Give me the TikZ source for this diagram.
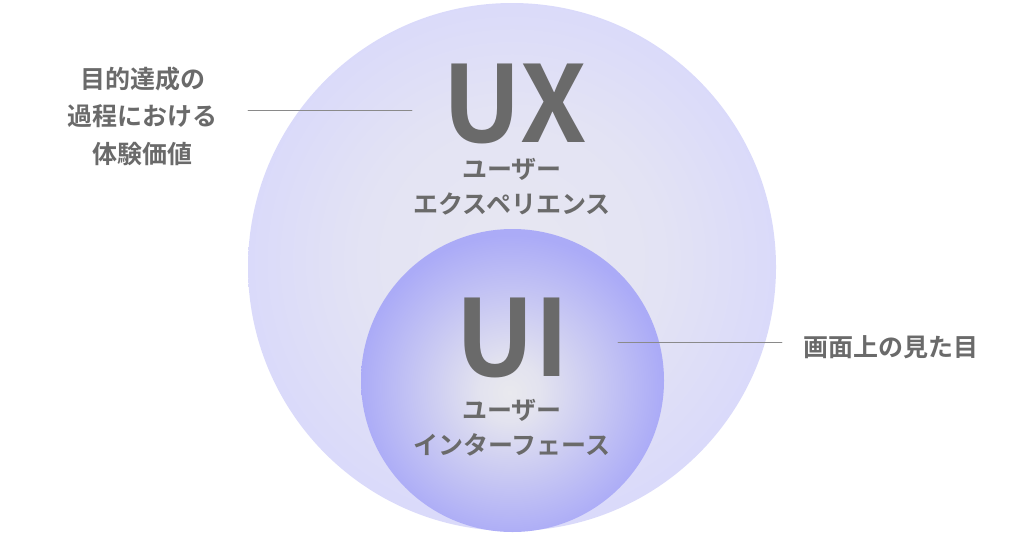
\documentclass[tikz,border=0pt]{standalone}
\usepackage{fontspec}
\usepackage{xcolor}
\usepackage{tikz}
\newfontfamily\jpbold{Noto Sans CJK JP Bold}
\definecolor{textgray}{HTML}{6A6A6A}
\definecolor{linegray}{HTML}{8A8A8A}
\definecolor{uxin}{HTML}{E7E7F1}
\definecolor{uxout}{HTML}{DADAFA}
\definecolor{uiin}{HTML}{E9E9EE}
\definecolor{uiout}{HTML}{ABABF7}
\pgfdeclareradialshading{uxshade}{\pgfpoint{0bp}{1bp}}{color(0bp)=(uxin); color(14bp)=(uxin!70!uxout); color(25bp)=(uxout); color(50bp)=(uxout)}
\pgfdeclareradialshading{uishade}{\pgfpoint{-0.5bp}{-2bp}}{color(0bp)=(uiin); color(5bp)=(uiin!90!uiout); color(25bp)=(uiout); color(50bp)=(uiout)}

\begin{document}
\begin{tikzpicture}[line cap=round,line join=round,x=1pt,y=-1pt]
		\useasboundingbox (0,0) rectangle (1024,536);
		\tikzset{
			bigword/.style={text=textgray,font=\jpbold\fontsize{106}{106}\selectfont,anchor=base,inner sep=0},
			jplabel/.style={text=textgray,font=\jpbold\fontsize{25}{35}\selectfont,align=center,inner sep=0},
			leader/.style={draw=linegray,line width=0.9pt}
		}
		\node [circle,shading=uxshade,minimum size=528pt,inner sep=0] (uxcircle) at (512,267) {};
		\node [circle,shading=uishade,minimum size=303pt,inner sep=0] (uicircle) at (512.5,380.5) {};
		\node [bigword] (ux) at (515,142) {UX};
		\node [jplabel] (uxsub) at (512,187) {ユーザー\\エクスペリエンス};
		\node [bigword] (ui) at (512.5,376) {UI};
		\node [jplabel] (uisub) at (512,428) {ユーザー\\インターフェース};
		\node [jplabel,font=\jpbold\fontsize{25}{37.5}\selectfont] (uxnote) at (142.5,116) {目的達成の\\過程における\\体験価値};
		\node [jplabel] (uinote) at (891,347) {画面上の見た目};
		\coordinate (uxlinestart) at (248,110);
		\coordinate (uxlineend) at (412,110);
		\coordinate (uilinestart) at (618,342);
		\coordinate (uilineend) at (782,342);
		\draw [leader] (uxlinestart) -- (uxlineend);
		\draw [leader] (uilinestart) -- (uilineend);
\end{tikzpicture}
\end{document}
